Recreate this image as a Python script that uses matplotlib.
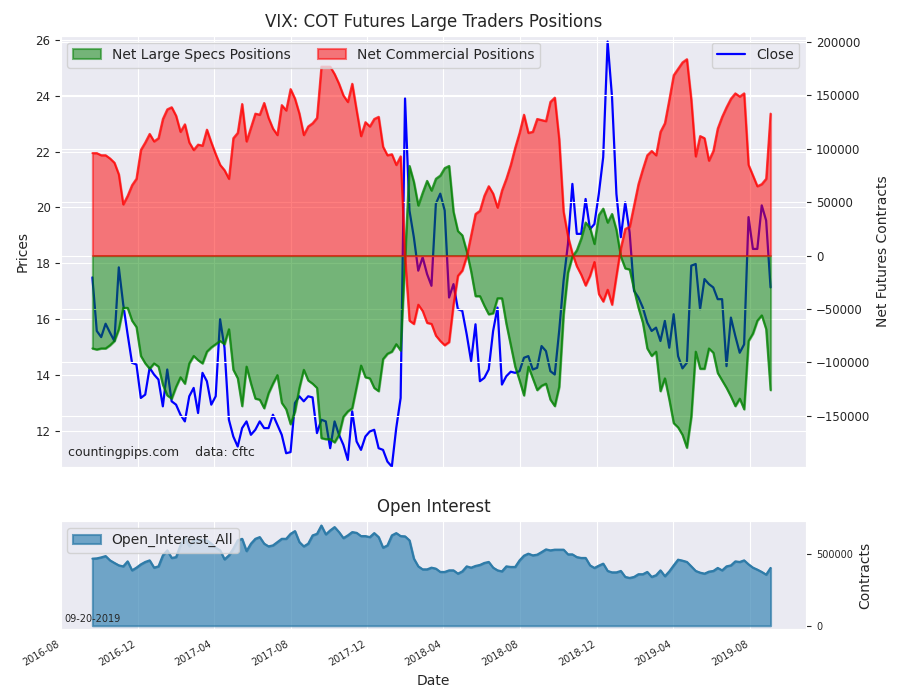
import matplotlib
matplotlib.use("Agg")
import matplotlib.pyplot as plt
import matplotlib.dates as mdates
import pandas as pd
import seaborn as sns

sns.set_style("darkgrid")
plt.rcParams["font.family"] = ["DejaVu Sans"]

dates = pd.date_range("2016-09-20", periods=155, freq="7D")

close = [
    17.49, 15.57, 15.35, 15.83, 15.51, 15.21, 17.85, 16.53, 15.45, 14.43,
    14.37, 13.17, 13.29, 14.25, 14.01, 13.83, 12.87, 14.19, 13.05, 12.93,
    12.57, 12.33, 13.23, 13.53, 12.63, 14.07, 13.77, 12.93, 13.23, 15.99,
    14.97, 12.39, 11.79, 11.43, 12.09, 12.33, 11.85, 12.03, 12.33, 12.09,
    12.09, 12.57, 12.21, 11.85, 11.19, 11.23, 12.99, 13.23, 13.05, 13.23,
    13.19, 11.91, 12.39, 12.33, 11.37, 12.33, 11.85, 11.49, 10.95, 12.69,
    11.61, 11.31, 11.79, 11.97, 12.03, 11.37, 11.31, 10.89, 10.71, 12.09,
    13.17, 23.90, 19.89, 18.93, 17.73, 18.21, 17.61, 17.19, 20.13, 20.49,
    19.89, 16.77, 17.25, 16.35, 16.29, 15.45, 14.49, 15.81, 13.77, 13.89,
    14.19, 15.57, 16.41, 13.65, 13.95, 14.11, 14.07, 14.13, 14.61, 14.67,
    14.19, 14.25, 15.03, 14.85, 14.13, 14.01, 15.57, 17.37, 18.69, 20.84,
    19.05, 19.05, 20.30, 19.22, 19.40, 20.48, 21.80, 25.94, 23.96, 20.48,
    18.93, 20.18, 19.10, 17.01, 16.77, 16.41, 15.87, 15.57, 15.69, 15.21,
    15.93, 14.97, 16.17, 14.67, 14.23, 14.43, 17.91, 17.97, 16.35, 17.43,
    17.25, 17.13, 16.71, 16.71, 14.31, 16.05, 15.39, 14.79, 15.09, 19.65,
    18.51, 18.51, 20.07, 19.53, 17.13,
]

# thousands of contracts
specs_k = [
    -87, -88, -87, -87, -84, -80, -69, -49, -49, -61,
    -67, -94, -101, -106, -101, -104, -121, -131, -134, -123,
    -114, -120, -101, -94, -98, -101, -90, -86, -83, -80,
    -83, -69, -107, -115, -141, -104, -120, -134, -135, -143,
    -129, -120, -112, -138, -144, -158, -146, -124, -107, -117,
    -120, -124, -171, -172, -172, -175, -168, -151, -146, -143,
    -123, -103, -114, -115, -124, -127, -97, -92, -90, -83,
    -89, -2, 84, 69, 47, 59, 70, 61, 72, 75,
    82, 84, 41, 23, 19, 4, -15, -38, -38, -47,
    -55, -54, -40, -40, -64, -84, -104, -117, -131, -104,
    -115, -126, -122, -120, -135, -141, -123, -55, -16, -1,
    5, 16, 31, 26, 11, 38, 44, 31, 39, 24,
    -1, -12, -13, -32, -49, -63, -87, -94, -90, -127,
    -115, -135, -157, -161, -168, -180, -151, -90, -106, -106,
    -87, -91, -110, -117, -124, -132, -141, -134, -144, -80,
    -73, -61, -56, -69, -126,
]

commercial_k = [
    96, 96, 94, 94, 91, 87, 76, 48, 56, 66,
    72, 99, 106, 114, 107, 110, 128, 137, 139, 131,
    116, 123, 106, 99, 104, 103, 118, 106, 95, 85,
    80, 72, 110, 115, 142, 107, 120, 133, 132, 143,
    129, 119, 113, 141, 136, 156, 147, 133, 113, 121,
    124, 129, 177, 177, 177, 170, 161, 150, 144, 161,
    136, 112, 125, 121, 128, 130, 102, 94, 95, 85,
    93, -2, -61, -64, -46, -52, -63, -64, -75, -80,
    -84, -81, -46, -19, -14, -1, 19, 39, 42, 56,
    65, 58, 45, 61, 72, 85, 101, 115, 132, 115,
    116, 128, 127, 126, 144, 148, 109, 41, 18, 2,
    -10, -18, -28, -19, -6, -36, -43, -32, -46, -19,
    7, 25, 27, 47, 67, 81, 94, 98, 94, 116,
    124, 146, 169, 175, 181, 184, 146, 93, 112, 110,
    89, 98, 119, 130, 139, 147, 152, 149, 152, 85,
    75, 65, 67, 72, 133,
]

open_interest_k = [
    470, 472, 479, 488, 458, 440, 423, 416, 451, 388,
    407, 430, 447, 458, 407, 416, 493, 528, 475, 481,
    563, 621, 556, 598, 602, 602, 598, 575, 547, 528,
    465, 493, 540, 598, 609, 523, 575, 609, 621, 575,
    556, 563, 586, 609, 609, 644, 663, 586, 556, 575,
    633, 644, 702, 640, 668, 691, 656, 614, 633, 656,
    651, 628, 628, 621, 649, 621, 547, 563, 633, 649,
    628, 626, 598, 470, 416, 395, 395, 407, 400, 377,
    377, 388, 388, 365, 381, 416, 407, 419, 426, 440,
    447, 407, 388, 381, 416, 412, 412, 458, 491, 505,
    493, 498, 516, 535, 528, 533, 533, 533, 500, 500,
    481, 475, 475, 423, 405, 421, 435, 384, 374, 374,
    384, 342, 335, 342, 361, 361, 377, 342, 354, 388,
    347, 381, 423, 463, 456, 447, 416, 384, 372, 365,
    379, 384, 405, 388, 416, 423, 451, 447, 458, 430,
    407, 393, 377, 358, 405,
]

specs = [v * 1000 for v in specs_k]
commercial = [v * 1000 for v in commercial_k]
oi = [v * 1000 for v in open_interest_k]

fig = plt.figure(figsize=(9, 7), dpi=100)
ax1 = fig.add_axes([0.067, 0.333, 0.829, 0.616])
ax3 = fig.add_axes([0.067, 0.101, 0.829, 0.155], sharex=ax1)

ax1.plot(dates, close, color="blue", lw=1.6)
ax1.set_ylim(10.7, 26.15)
ax1.set_ylabel("Prices", fontsize=10)
ax1.tick_params(labelsize=8.5)
ax1.tick_params(axis="x", labelbottom=False)
ax1.set_title("VIX: COT Futures Large Traders Positions", fontsize=12)
ax1.legend(["Close"], loc="upper right", fontsize=10)

ax2 = ax1.twinx()
ax2.fill_between(dates, 0, specs, color="green", alpha=0.5, lw=1.5, edgecolor="green",
                 label="Net Large Specs Positions")
ax2.plot(dates, specs, color="green", lw=1.5, alpha=0.7)
ax2.fill_between(dates, 0, commercial, color="red", alpha=0.5, lw=1.5, edgecolor="red",
                 label="Net Commercial Positions")
ax2.plot(dates, commercial, color="red", lw=1.5, alpha=0.7)
ax2.set_ylim(-198000, 206000)
ax2.set_ylabel("Net Futures Contracts", fontsize=10)
ax2.tick_params(labelsize=8.5)
ax2.legend(loc="upper left", ncol=2, fontsize=10)
ax2.text(0.01, 0.025, "countingpips.com    data: cftc", transform=ax2.transAxes, fontsize=9)

ax3.fill_between(dates, 0, oi, color="#3b87b5", alpha=0.7, lw=1.5, edgecolor="#2e7ba8",
                 label="Open_Interest_All")
ax3.plot(dates, oi, color="#2e7ba8", lw=1.5)
ax3.set_ylim(-25000, 735000)
ax3.set_yticks([])
ax3.set_title("Open Interest", fontsize=12)
ax3.legend(loc="upper left", fontsize=10)
ax3.text(0.005, 0.07, "09-20-2019", transform=ax3.transAxes, fontsize=7)
ax3.set_xlabel("Date", fontsize=10)
ax4 = ax3.twinx()
ax4.set_ylim(-25000, 735000)
ax4.set_yticks([0, 500000])
ax4.tick_params(labelsize=7)
ax4.grid(False)
ax4.set_ylabel("Contracts", fontsize=10)

ax1.set_xlim(pd.Timestamp("2016-07-31"), pd.Timestamp("2019-10-30"))
ax3.xaxis.set_major_locator(mdates.MonthLocator(bymonth=[4, 8, 12]))
ax3.xaxis.set_major_formatter(mdates.DateFormatter("%Y-%m"))
plt.setp(ax3.get_xticklabels(), rotation=30, ha="right", fontsize=7)

fig.savefig("out.png", dpi=100)
